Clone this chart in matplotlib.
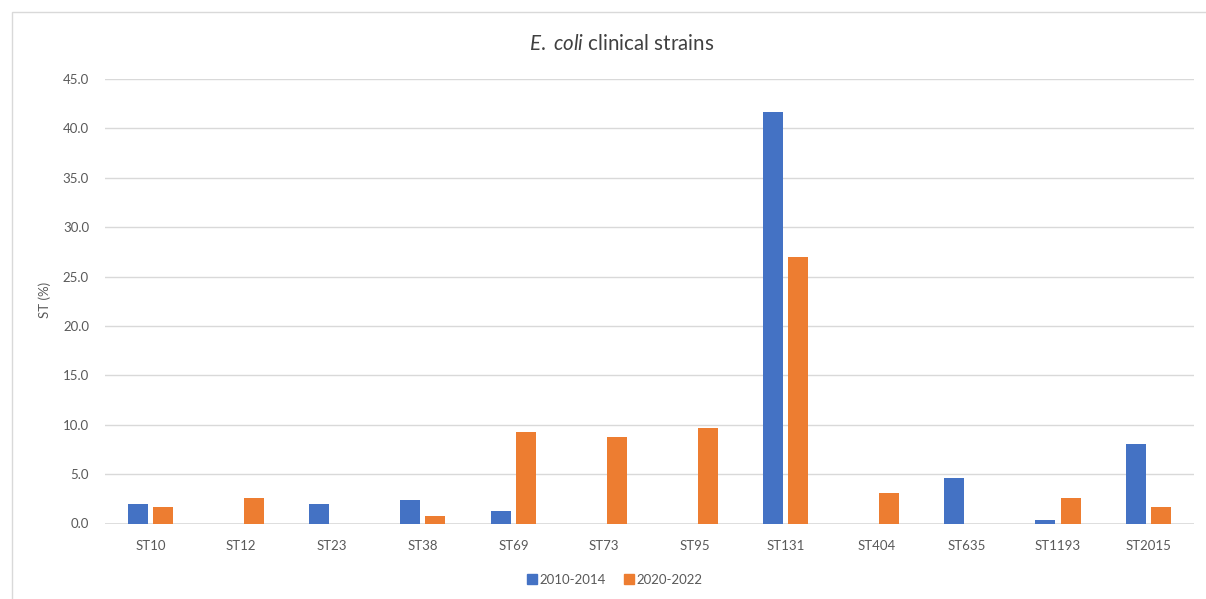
import matplotlib
matplotlib.use("Agg")
import matplotlib.pyplot as plt
import numpy as np
from matplotlib.patches import Rectangle
from matplotlib.lines import Line2D

categories = ["ST10", "ST12", "ST23", "ST38", "ST69", "ST73", "ST95",
              "ST131", "ST404", "ST635", "ST1193", "ST2015"]
series_2010_2014 = [2.0, 0.0, 2.0, 2.4, 1.3, 0.0, 0.0, 41.7, 0.0, 4.6, 0.4, 8.0]
series_2020_2022 = [1.7, 2.6, 0.0, 0.8, 9.3, 8.8, 9.7, 27.0, 3.1, 0.0, 2.6, 1.7]
series_names = ["2010-2014", "2020-2022"]
yticks = [0, 5, 10, 15, 20, 25, 30, 35, 40, 45]

BLUE = "#4472C4"
ORANGE = "#ED7D31"
GRID = "#D9D9D9"
TXT = "#595959"

plt.rcParams["font.family"] = ["Lato", "DejaVu Sans"]
plt.rcParams["mathtext.fontset"] = "custom"
plt.rcParams["mathtext.rm"] = "Lato"
plt.rcParams["mathtext.it"] = "Lato:italic"

W, H = 1206, 599
fig = plt.figure(figsize=(W / 100, H / 100), dpi=100)

# chart frame
fig.patches.append(Rectangle((12 / W, -0.02), 1.1, 1 - 12 / H + 0.02,
                             transform=fig.transFigure, fill=False,
                             edgecolor="#D9D9D9", linewidth=1.0))

left, right = 105 / W, 1194 / W
bottom, top = 1 - 523.5 / H, 1 - 79 / H
ax = fig.add_axes([left, bottom, right - left, top - bottom])

x = np.arange(len(categories))
bw = 0.22
off = 0.14
ax.bar(x - off, series_2010_2014, width=bw, color=BLUE, zorder=3)
ax.bar(x + off, series_2020_2022, width=bw, color=ORANGE, zorder=3)

ax.set_xlim(-0.5, len(categories) - 0.5)
ax.set_ylim(0, 45)
ax.set_yticks(yticks)
ax.set_yticklabels([f"{v:.1f}" for v in yticks])
ax.set_xticks(x)
ax.set_xticklabels(categories)
ax.grid(axis="y", color=GRID, linewidth=1.0, zorder=0)
ax.tick_params(axis="both", length=0, colors=TXT, labelsize=9.5)
ax.tick_params(axis="y", pad=11.5)
ax.tick_params(axis="x", pad=12)
for s in ax.spines.values():
    s.set_visible(False)
ax.axhline(0, color=GRID, linewidth=1.2, zorder=2)

fig.text(45 / W, 1 - 300 / H, "ST (%)", rotation=90, ha="center", va="center",
         color=TXT, fontsize=9.5)

fig.text(622 / W, 1 - 44 / H, r"$\mathit{E.}$ $\mathit{coli}$ clinical strains",
         ha="center", va="center", color="#404040", fontsize=14.8)

handles = [Line2D([], [], marker="s", linestyle="none", color=BLUE, markersize=7),
           Line2D([], [], marker="s", linestyle="none", color=ORANGE, markersize=7)]
fig.legend(handles, series_names, loc="center", bbox_to_anchor=(614 / W, 1 - 580 / H),
           ncol=2, frameon=False, fontsize=9.5, labelcolor=TXT,
           handletextpad=0.1, columnspacing=1.2, handlelength=1.0)

fig.savefig("out.png", dpi=100)
